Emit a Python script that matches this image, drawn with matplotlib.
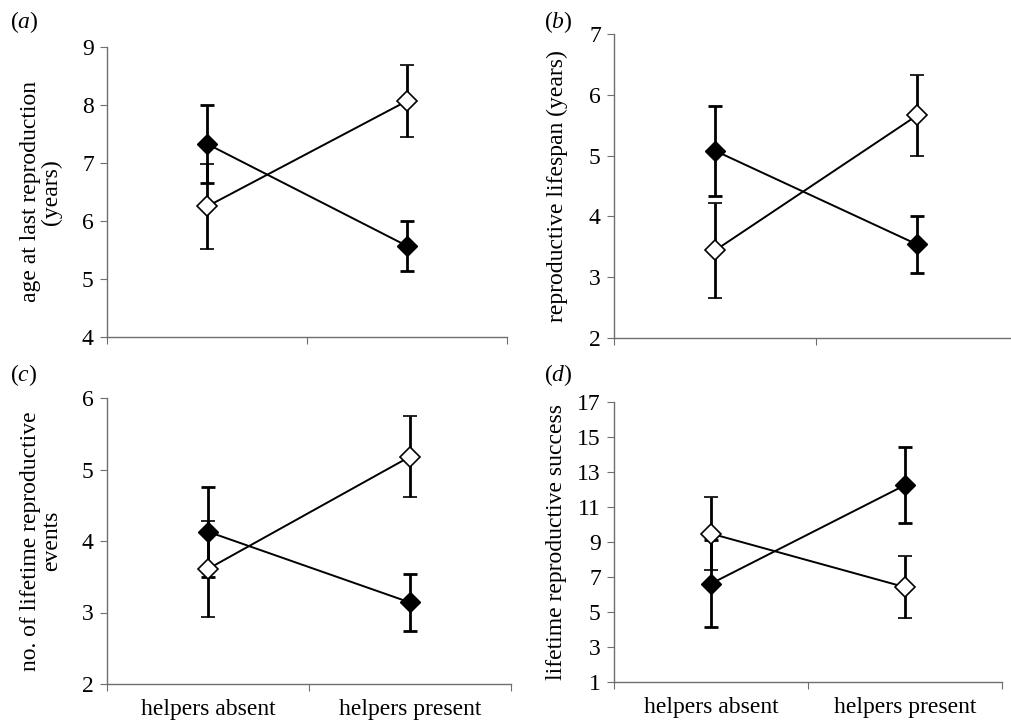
import matplotlib
matplotlib.use("Agg")
import matplotlib.pyplot as plt

plt.rcParams['font.family'] = ['Liberation Serif', 'DejaVu Serif']
plt.rcParams['mathtext.fontset'] = 'custom'
plt.rcParams['mathtext.it'] = 'Liberation Serif:italic'
plt.rcParams['mathtext.rm'] = 'Liberation Serif'

groups = ['helpers absent', 'helpers present']

# (a) age at last reproduction
a_filled = [7.33, 5.57]
a_filled_err = [0.67, 0.43]
a_open = [6.25, 8.07]
a_open_err = [0.73, 0.62]

# (b) reproductive lifespan
b_filled = [5.08, 3.54]
b_filled_err = [0.74, 0.47]
b_open = [3.44, 5.66]
b_open_err = [0.78, 0.66]

# (c) lifetime reproductive events
c_filled = [4.13, 3.14]
c_filled_err = [0.63, 0.40]
c_open = [3.61, 5.18]
c_open_err = [0.67, 0.57]

# (d) lifetime reproductive success
d_filled = [6.62, 12.25]
d_filled_err = [2.47, 2.17]
d_open = [9.48, 6.42]
d_open_err = [2.08, 1.76]

panels = [
    ('a', a_filled, a_filled_err, a_open, a_open_err, 'age at last reproduction\n(years)', (4, 9), range(4, 10)),
    ('b', b_filled, b_filled_err, b_open, b_open_err, 'reproductive lifespan (years)', (2, 7), range(2, 8)),
    ('c', c_filled, c_filled_err, c_open, c_open_err, 'no. of lifetime reproductive\nevents', (2, 6), range(2, 7)),
    ('d', d_filled, d_filled_err, d_open, d_open_err, 'lifetime reproductive success', (1, 17), range(1, 18, 2)),
]

W, H = 1012, 727
# axes boxes in pixels: left, right, top, bottom
boxes = [
    (107, 507, 47, 337),
    (614, 1018, 34, 338),
    (107, 511, 398, 684),
    (614, 1002, 402, 682),
]
label_pos = [(10, 22), (544, 22), (10, 375), (544, 375)]
ylabel_x = [-0.112, -0.114, -0.111, -0.121]

fig = plt.figure(figsize=(W / 100, H / 100), dpi=100)
gray = '#6e6e6e'
x = [0.5, 1.5]

for i, (key, filled, ferr, opn, oerr, ylabel, ylim, yt) in enumerate(panels):
    l, r, t, b = boxes[i]
    ax = fig.add_axes([l / W, 1 - b / H, (r - l) / W, (b - t) / H])
    ax.errorbar(x, filled, yerr=ferr, color='black', lw=1.4, elinewidth=2.0,
                capsize=5, capthick=2.0, marker='D', ms=9.8,
                mfc='black', mec='black', zorder=3)
    ax.errorbar(x, opn, yerr=oerr, color='black', lw=1.4, elinewidth=2.0,
                capsize=5, capthick=2.0, marker='D', ms=9.8,
                mfc='white', mec='black', mew=1.2, zorder=4)
    ax.set_xlim(0, 2)
    ax.set_ylim(*ylim)
    ax.set_yticks(list(yt))
    ax.set_xticks([0, 1, 2])
    ax.set_xticklabels([])
    ax.set_xticks(x, minor=True)
    if i >= 2:
        ax.set_xticklabels(groups, minor=True)
    ax.tick_params(axis='x', which='minor', length=0, labelsize=17, pad=11)
    ax.tick_params(axis='x', which='major', length=5, color=gray, direction='out')
    ax.tick_params(axis='y', length=5, color=gray, labelsize=17, pad=4.5)
    for s in ['top', 'right']:
        ax.spines[s].set_visible(False)
    for s in ['left', 'bottom']:
        ax.spines[s].set_color(gray)
        ax.spines[s].set_linewidth(1.0)
    ax.set_ylabel(ylabel, fontsize=17, linespacing=1.0)
    ax.yaxis.set_label_coords(ylabel_x[i], 0.5)
    lx, ly = label_pos[i]
    fig.text(lx / W, 1 - ly / H, '($\\it{%s}$)' % key, fontsize=17, va='center', ha='left')

fig.savefig('out.png', dpi=100)
